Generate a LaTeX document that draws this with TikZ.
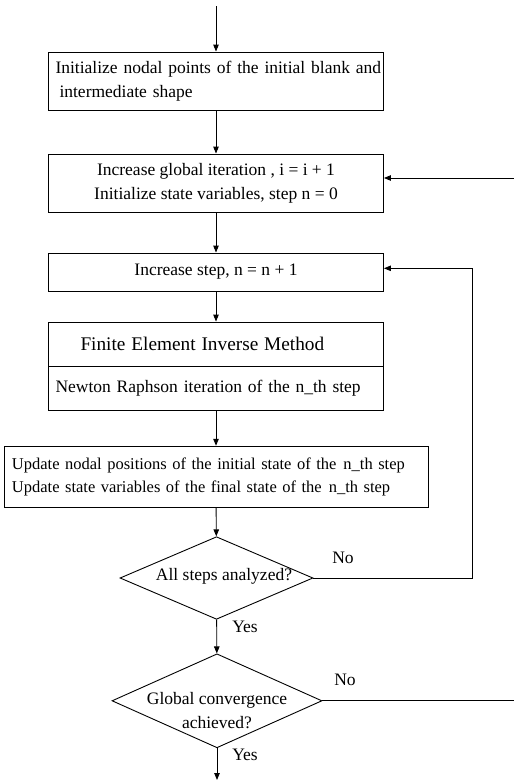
\documentclass[tikz,border=0pt]{standalone}
\usepackage{fontspec}
\setmainfont{Liberation Serif}
\usetikzlibrary{shapes.geometric,arrows.meta,positioning}

\begin{document}
\begin{tikzpicture}[
  x=1pt, y=-1pt,
  font=\fontsize{17.5}{24}\selectfont,
  box/.style={
    rectangle, draw=black, line width=0.9pt,
    minimum width=335pt, minimum height=#1,
    inner xsep=7pt, inner ysep=0pt, align=center
  },
  box/.default=58pt,
  decision/.style={
    diamond, draw=black, line width=0.9pt,
    inner sep=0pt
  },
  question/.style={align=center, inner sep=0pt},
  answer/.style={inner sep=0pt},
  arr/.style={-{Triangle[length=7pt,width=5.5pt]}, line width=0.9pt}
]
\useasboundingbox (0,0) rectangle (514,782);

\coordinate (start) at (216,6);
\node[box, text width=321pt, align=left] (init) at (216,81) {\mbox{Initialize nodal points of the initial blank and}\\\hspace*{4pt}intermediate shape};
\node[box] (glob) at (216,183) {Increase global iteration , i = i + 1\\Initialize state variables, step n = 0};
\node[box=38pt] (incr) at (216,272) {Increase step, n = n + 1};
\node[box=44pt, text width=321pt, align=left] (fem) at (216,344) {\hspace*{25pt}{\fontsize{19.3}{23}\selectfont Finite Element Inverse Method}};
\node[box=43.5pt, text width=321pt, align=left, below=0pt of fem] (newton) {Newton Raphson iteration of the n\_th step};
\node[box=61pt, minimum width=424pt, text width=408pt, inner xsep=8pt, align=left, font=\fontsize{16.5}{23.5}\selectfont] (upd) at (216,476.7) {\mbox{Update nodal positions of the initial state of the\hspace{7pt}n\_th step}\\\mbox{Update state variables of the final state of the\hspace{7pt}n\_th step}};

\node[decision, minimum width=193pt, minimum height=82.6pt] (allsteps) at (216.5,578) {};
\node[question] (allstepstext) at (224,576) {All steps analyzed?};
\node[decision, minimum width=210pt, minimum height=94pt] (conv) at (217,700.8) {};
\node[question] (convtext) at (217,711) {Global convergence\\achieved?};

\node[answer] (noA) at (343,558) {No};
\node[answer] (yesA) at (245,627) {Yes};
\node[answer] (noB) at (345,680) {No};
\node[answer] (yesB) at (245,755) {Yes};

\draw[arr] (start) -- (init);
\draw[arr] (init) -- (glob);
\draw[arr] (glob) -- (incr);
\draw[arr] (incr) -- (fem);
\draw[arr] (newton) -- (upd);
\draw[arr] (upd) -- (allsteps);
\draw[arr] (allsteps) -- (conv);
\coordinate (finish) at (217,780);
\draw[arr] (conv) -- (finish);

\coordinate (stepsLoopLow) at (472,578);
\coordinate (stepsLoopHigh) at (472,268.3);
\draw[arr] (allsteps.east) -- (stepsLoopLow) -- (stepsLoopHigh) -- (stepsLoopHigh -| incr.east);

\coordinate (globalOut) at (514,700.8);
\draw[line width=0.9pt] (conv.east) -- (globalOut);
\coordinate (globalIn) at (514,178);
\draw[arr] (globalIn) -- (globalIn -| glob.east);
\end{tikzpicture}
\end{document}
